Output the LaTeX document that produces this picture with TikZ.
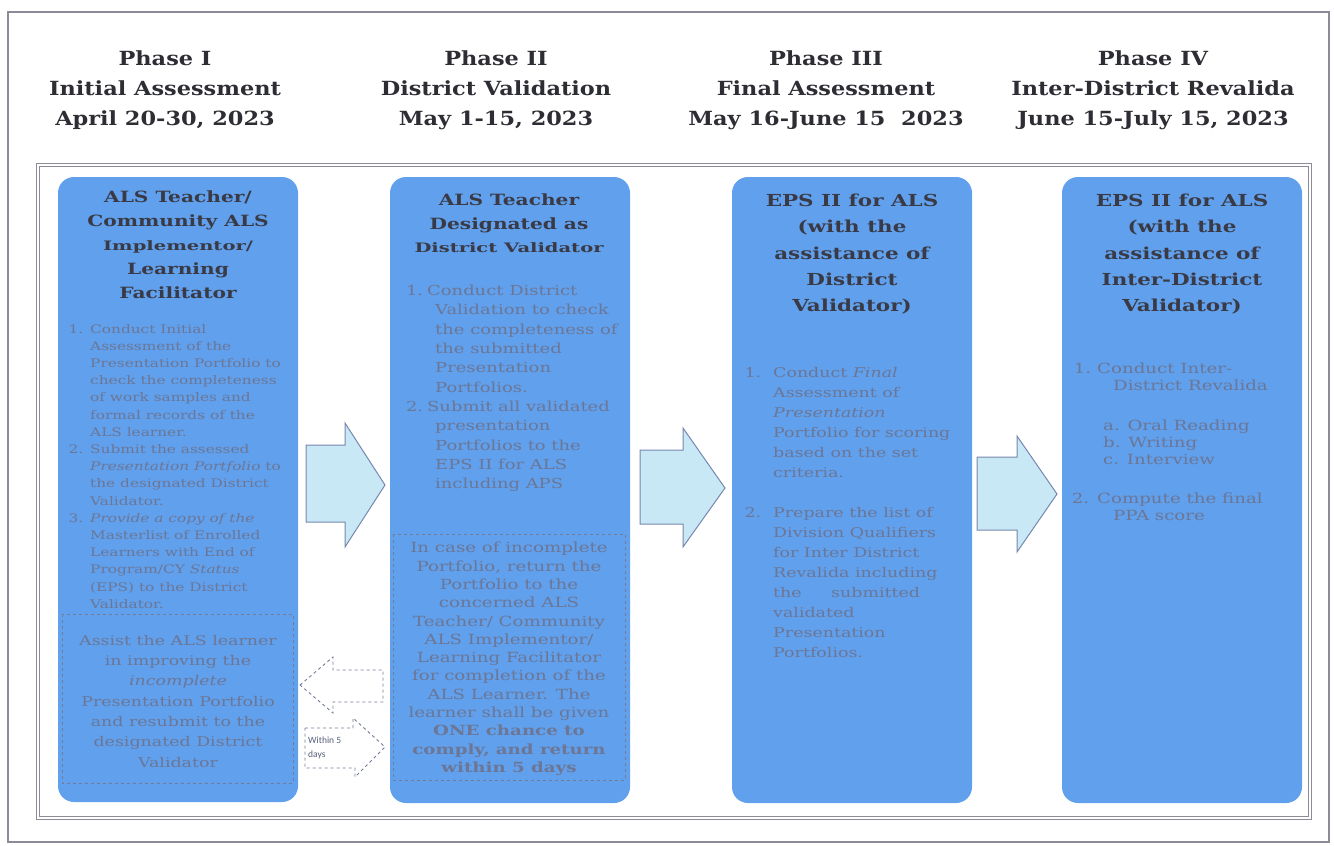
\documentclass[tikz,border=0pt]{standalone}
\usepackage{fontspec}
\setmainfont{DejaVu Serif}
\newfontfamily\wide[FakeStretch=1.3]{DejaVu Serif}
\newfontfamily\wider[FakeStretch=1.5]{DejaVu Serif}
\newfontfamily\headfont[FakeStretch=1.15]{DejaVu Serif}
\newfontfamily\smallsans{Carlito}
\definecolor{boxblue}{RGB}{96,160,236}
\definecolor{titlecol}{RGB}{58,58,70}
\definecolor{bodycol}{RGB}{108,118,150}
\definecolor{headcol}{RGB}{45,45,52}
\definecolor{arrowfill}{RGB}{200,232,246}
\definecolor{arrowline}{RGB}{120,135,175}
\definecolor{framecol}{RGB}{140,140,152}
\definecolor{dashcol}{RGB}{115,123,150}
\newcommand\fs[2]{\fontsize{#1}{#2}\selectfont}
\tikzset{
  phasebox/.style={fill=boxblue, draw=none, rounded corners=16pt},
  headtext/.style={font=\headfont\fs{19.5}{30}\bfseries, text=headcol, align=center, anchor=north, inner sep=0pt},
  titletext/.style={text=titlecol, align=center, anchor=north, inner sep=0pt},
  bodytext/.style={text=bodycol, align=left, anchor=north west, inner sep=0pt},
  centertext/.style={text=bodycol, align=center, anchor=north, inner sep=0pt},
  blockarrow/.style={fill=arrowfill, draw=arrowline, line width=1pt, line join=miter},
  dasharrow/.style={draw=dashcol, dashed, line width=0.9pt},
  dashbox/.style={draw=dashcol, dashed, line width=0.9pt},
}
\begin{document}
\begin{tikzpicture}[x=1pt,y=-1pt]
\useasboundingbox (0,0) rectangle (1334,846);
% frames
\draw[framecol, line width=1.3pt] (8,12) rectangle (1329,842);
\draw[framecol, double=white, double distance=1.5pt, line width=0.8pt] (38,165) rectangle (1310,818);

% headers
\node[headtext] (h1) at (165,50) {Phase I\\Initial Assessment\\April 20-30, 2023};
\node[headtext] (h2) at (496,50) {Phase II\\District Validation\\May 1-15, 2023};
\node[headtext] (h3) at (826,50) {Phase III\\Final Assessment\\May 16-June 15~~2023};
\node[headtext] (h4) at (1153,50) {Phase IV\\Inter-District Revalida\\June 15-July 15, 2023};

% boxes
\fill[phasebox] (58,177) rectangle (298,802);
\fill[phasebox] (390,177) rectangle (630,803);
\fill[phasebox] (732,177) rectangle (972,803);
\fill[phasebox] (1062,177) rectangle (1302,803);

% box 1
\node[titletext, font=\wide\fs{15.5}{23.8}\bfseries] (t1) at (178,191) {ALS Teacher/\\Community ALS\\{\wider\fs{13}{23.8}\bfseries Implementor/}\\Learning\\Facilitator};
\node[bodytext, font=\wide\fs{11.8}{17.2}] (b1) at (90,324) {\llap{1.\hspace{7pt}}Conduct Initial\\Assessment of the\\Presentation Portfolio to\\check the completeness\\of work samples and\\formal records of the\\ALS learner.\\\llap{2.\hspace{7pt}}Submit the assessed\\\textit{Presentation Portfolio} to\\the designated District\\Validator.\\\llap{3.\hspace{7pt}}\textit{Provide a copy of the}\\Masterlist of Enrolled\\Learners with End of\\Program/CY \textit{Status}\\(EPS) to the District\\Validator.};
\draw[dashbox] (62,614) rectangle (293,783);
\node[centertext, font=\wide\fs{13.4}{20.3}] (d1) at (178,635) {Assist the ALS learner\\in improving the\\\textit{incomplete}\\Presentation Portfolio\\and resubmit to the\\designated District\\Validator};

% box 2
\node[titletext, font=\wide\fs{15.5}{23.5}\bfseries] (t2) at (509,194) {ALS Teacher\\Designated as\\{\wider\fs{13}{23.5}\bfseries District Validator}};
\node[bodytext, font=\wide\fs{13.8}{19.3}] (b2) at (435,285) {\hspace*{-8pt}\llap{1.\hspace{4pt}}Conduct District\\Validation to check\\the completeness of\\the submitted\\Presentation\\Portfolios.\\\hspace*{-8pt}\llap{2.\hspace{4pt}}Submit all validated\\presentation\\Portfolios to the\\EPS II for ALS\\including APS};
\draw[dashbox] (393,534) rectangle (625,780);
\node[centertext, font=\wide\fs{14}{18.3}] (d2) at (509,542) {In case of incomplete\\Portfolio, return the\\Portfolio to the\\concerned ALS\\Teacher/ Community\\ALS Implementor/\\Learning Facilitator\\for completion of the\\ALS Learner. The\\learner shall be given\\\textbf{ONE chance to}\\\textbf{comply, and return}\\\textbf{within 5 days}};

% box 3
\node[titletext, font=\wide\fs{16.5}{26.2}\bfseries] (t3) at (852,194) {EPS II for ALS\\(with the\\assistance of\\District\\Validator)};
\node[bodytext, font=\wide\fs{13.4}{20}] (b3) at (773,367) {\llap{1.\hspace{12pt}}Conduct \textit{Final}\\Assessment of\\\textit{Presentation}\\Portfolio for scoring\\based on the set\\criteria.\\[20pt]\llap{2.\hspace{12pt}}Prepare the list of\\Division Qualifiers\\for Inter District\\Revalida including\\the\hspace{2.2em}submitted\\validated\\Presentation\\Portfolios.};

% box 4
\node[titletext, font=\wide\fs{16.5}{26.2}\bfseries] (t4) at (1182,194) {EPS II for ALS\\(with the\\assistance of\\Inter-District\\Validator)};
\node[bodytext, font=\wide\fs{14}{17}] (b4) at (1113,363) {\hspace*{-16pt}\llap{1.\hspace{6pt}}Conduct Inter-\\District Revalida\\[23pt]\hspace*{-10pt}a. Oral Reading\\\hspace*{-10pt}b. Writing\\\hspace*{-10pt}c. Interview\\[22pt]\hspace*{-16pt}\llap{2.\hspace{8pt}}Compute the final\\PPA score};

% block arrows
\draw[blockarrow] (306,445) -- (345,445) -- (345,423) -- (385,485) -- (345,547) -- (345,522) -- (306,522) -- cycle;
\draw[blockarrow] (640,450) -- (683,450) -- (683,428) -- (725,488) -- (683,547) -- (683,524) -- (640,524) -- cycle;
\draw[blockarrow] (977,457) -- (1017,457) -- (1017,436) -- (1057,494) -- (1017,552) -- (1017,530) -- (977,530) -- cycle;

% dashed arrows
\draw[dasharrow] (300,685) -- (333,657) -- (333,670) -- (383,670) -- (383,702) -- (333,702) -- (333,713) -- cycle;
\draw[dasharrow] (305,728) -- (353,728) -- (353,718) -- (385,747) -- (355,777) -- (355,768) -- (305,768) -- cycle;
\node[anchor=west, inner sep=0pt, align=left, font=\smallsans\fs{9.5}{14}, text=bodycol!80!black] (w5) at (308,748) {Within 5\\days};
\end{tikzpicture}
\end{document}
